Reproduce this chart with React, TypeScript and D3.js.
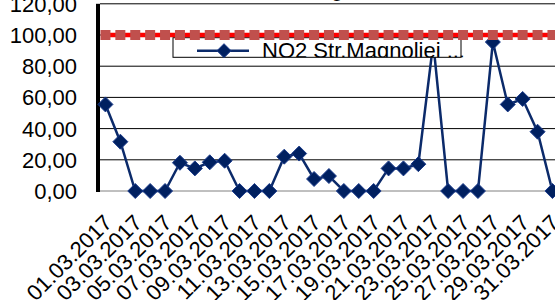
import React from "react";
import * as d3 from "d3";

// categories (every day of March 2017)
const dates = [
  "01.03.2017", "02.03.2017", "03.03.2017", "04.03.2017", "05.03.2017",
  "06.03.2017", "07.03.2017", "08.03.2017", "09.03.2017", "10.03.2017",
  "11.03.2017", "12.03.2017", "13.03.2017", "14.03.2017", "15.03.2017",
  "16.03.2017", "17.03.2017", "18.03.2017", "19.03.2017", "20.03.2017",
  "21.03.2017", "22.03.2017", "23.03.2017", "24.03.2017", "25.03.2017",
  "26.03.2017", "27.03.2017", "28.03.2017", "29.03.2017", "30.03.2017",
  "31.03.2017",
];

// NO2 values
const no2Values = [
  55.5, 31.6, 0, 0, 0, 18.1, 14.5, 18.4, 19.4, 0,
  0, 0, 22, 24, 7.7, 9.6, 0, 0, 0, 14.5,
  14.5, 17.2, 95, 0, 0, 0, 95.5, 55.5, 59, 38,
  0,
];

// limit value series
const limitValues = [
  100, 100, 100, 100, 100, 100, 100, 100, 100, 100,
  100, 100, 100, 100, 100, 100, 100, 100, 100, 100,
  100, 100, 100, 100, 100, 100, 100, 100, 100, 100,
  100,
];

const yTicks = [0, 20, 40, 60, 80, 100, 120];
const seriesName = "NO2 Str.Magnoliei ...";
const titleText = "NO2 Str.Magnoliei";

const W = 555;
const H = 300;
const font = "'Liberation Sans', Arial, sans-serif";

export default function App() {
  const x = d3
    .scaleBand<string>()
    .domain(dates)
    .range([98, 98 + 31 * 14.9]);
  const y = d3.scaleLinear().domain([0, 120]).range([191, 3.8]);
  const cx = (d: string) => (x(d) as number) + x.bandwidth() / 2;

  const line = d3
    .line<number>()
    .x((_, i) => cx(dates[i]))
    .y((v) => y(v));

  const diamond = (px: number, py: number, r: number) =>
    `M${px},${py - r}L${px + r},${py}L${px},${py + r}L${px - r},${py}Z`;

  const navy = "#0b2a6a";

  return (
    <svg
      width={W}
      height={H}
      style={{ position: "absolute", left: 0, top: 0, display: "block", background: "#fff" }}
      fontFamily={font}
    >
      <defs>
        <clipPath id="legendClip">
          <rect x={0} y={0} width={W} height={57.3} />
        </clipPath>
      </defs>

      {/* title, almost all of it above the picture */}
      <text x={216} y={-4} fontSize={22} fill="#000">
        {titleText}
      </text>

      {/* gridlines */}
      {yTicks.map((t) => (
        <line
          key={t}
          x1={100}
          x2={W}
          y1={y(t)}
          y2={y(t)}
          stroke={t === 0 ? "#808080" : "#000"}
          strokeWidth={1}
        />
      ))}

      {/* y axis */}
      <line x1={98} x2={98} y1={y(120)} y2={y(0) + 1} stroke="#000" strokeWidth={4} />
      {yTicks.map((t) => (
        <text
          key={t}
          x={77}
          y={y(t)}
          dy="0.36em"
          textAnchor="end"
          fontSize={22}
          fill="#000"
        >
          {d3.format(".2f")(t).replace(".", ",")}
        </text>
      ))}

      {/* x labels, every second day */}
      {dates.map((d, i) =>
        i % 2 === 0 ? (
          <text
            key={d}
            transform={`translate(${cx(d) - 3},213) rotate(-45)`}
            textAnchor="end"
            dy="0.71em"
            fontSize={22}
            fill="#000"
          >
            {d}
          </text>
        ) : null
      )}

      {/* NO2 series */}
      <path d={line(no2Values) ?? ""} fill="none" stroke={navy} strokeWidth={2.5} />
      {no2Values.map((v, i) => (
        <path
          key={i}
          d={diamond(cx(dates[i]), y(v), 7.5)}
          fill="#002060"
          stroke="#1c3c8c"
          strokeWidth={1}
        />
      ))}

      {/* legend */}
      <rect x={173} y={37.7} width={288} height={19.6} fill="#fff" stroke="#000" strokeWidth={1} />
      <line x1={197} x2={249} y1={50.7} y2={50.7} stroke={navy} strokeWidth={2.5} />
      <path d={diamond(224, 50.7, 7)} fill="#002060" stroke="#1c3c8c" strokeWidth={1} />
      <text x={262} y={58} fontSize={22} fill="#000" clipPath="url(#legendClip)">
        {seriesName}
      </text>

      {/* limit series */}
      <path d={line(limitValues) ?? ""} fill="none" stroke="#ff0000" strokeWidth={4.5} />
      {limitValues.map((v, i) => (
        <rect
          key={i}
          x={cx(dates[i]) - 5}
          y={y(v) - 5}
          width={10}
          height={10}
          fill="#c0504d"
        />
      ))}
    </svg>
  );
}
